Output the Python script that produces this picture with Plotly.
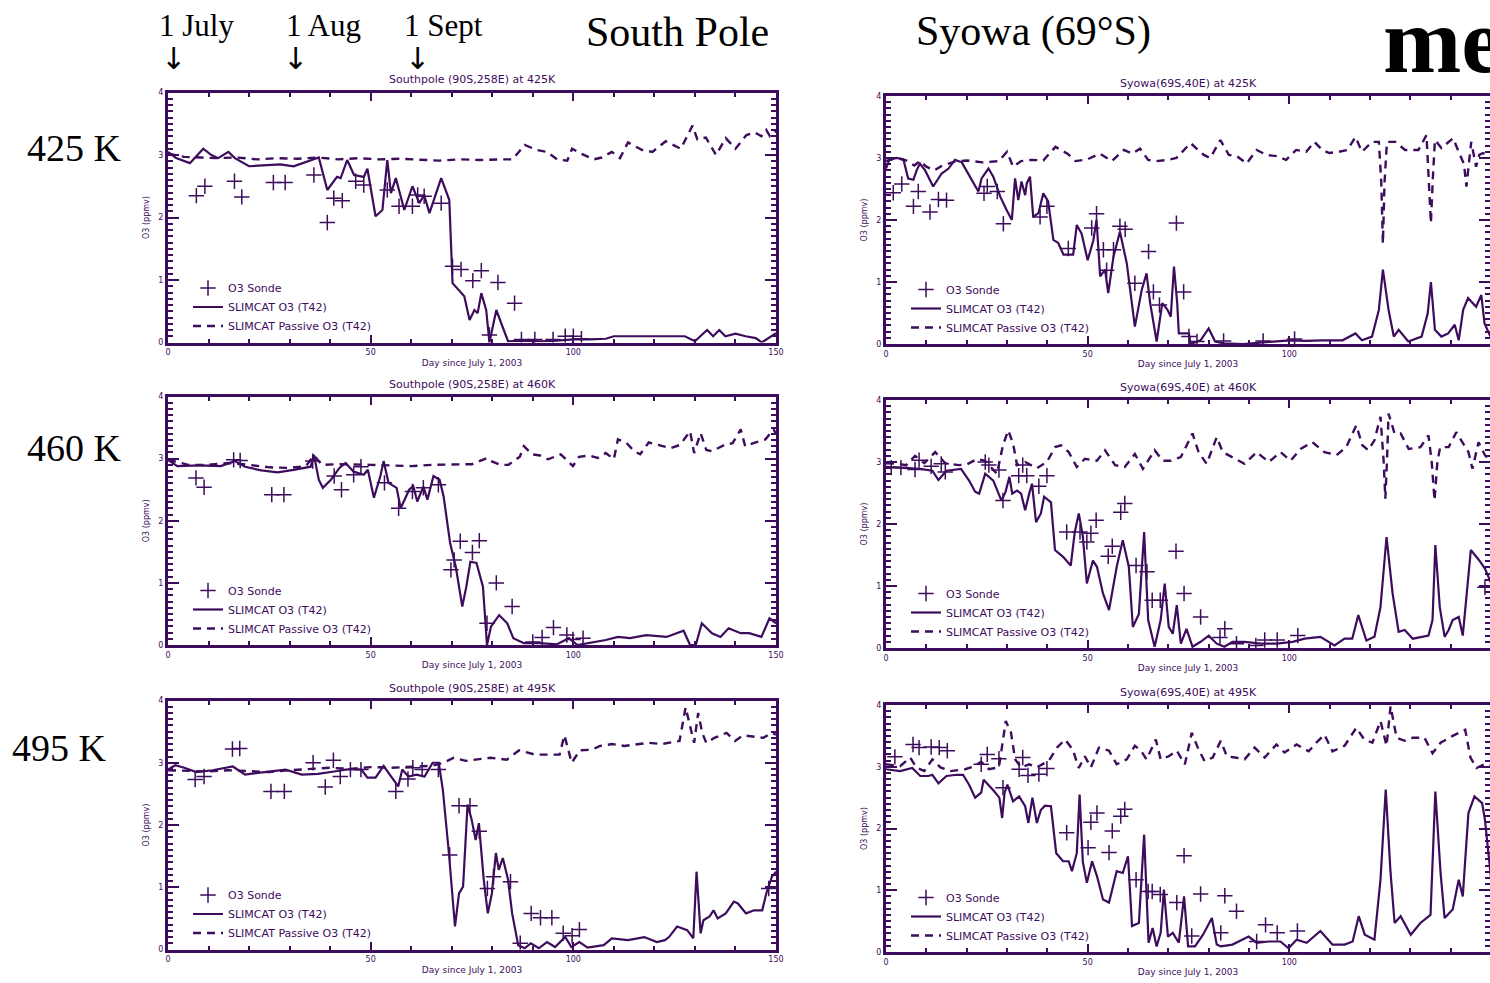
import plotly.graph_objects as go

PURPLE = "#3d0c5c"

# ---------------- South Pole 425K ----------------
SP425_MODEL_DAY = [0, 2, 5.4, 8.7, 10.7, 12.4, 14.9, 16.5, 20, 24, 27.7, 31, 34.3, 37.2, 39.3, 41.7, 42.6, 44.2, 45.9, 48.3, 49.2, 51.2, 52.9, 54.1, 55, 56.2, 58.3, 60.3, 62, 63.2, 64.5, 67.4, 69.4, 70.2, 73.1, 74.4, 75.6, 76.4, 77.3, 78.5, 79.3, 81, 82.2, 83.9, 88, 92, 96, 100, 104, 108, 110, 115, 120, 125, 127.5, 130, 133, 134.5, 136, 137.5, 140, 142.5, 145, 146.5, 149, 150]
SP425_MODEL_O3 = [3.05, 2.95, 2.87, 3.1, 3.0, 2.95, 3.05, 2.95, 2.82, 2.84, 2.85, 2.82, 2.9, 2.96, 2.44, 2.65, 2.63, 2.92, 2.68, 2.65, 2.78, 2.02, 2.12, 2.92, 2.39, 2.63, 2.12, 2.5, 2.23, 2.36, 2.07, 2.63, 2.28, 0.95, 0.74, 0.36, 0.52, 0.47, 0.79, 0.52, 0.0, 0.52, 0.31, 0.02, 0.03, 0.02, 0.03, 0.05, 0.05, 0.06, 0.1, 0.1, 0.1, 0.1, 0.1, 0.02, 0.2, 0.1, 0.2, 0.1, 0.14, 0.1, 0.07, 0.0, 0.1, 0.15]
SP425_PASSIVE_DAY = [0, 4, 8, 12, 17, 22, 27, 32, 37, 42, 47, 52, 57, 62, 67, 72, 77, 82, 85, 88, 91, 93.5, 96, 98.5, 99.7, 102, 105, 107, 109.5, 111.5, 113.5, 117, 119.5, 122.8, 126.5, 129.4, 130.6, 132.7, 135.2, 137.6, 140, 142.7, 144.8, 146.4, 147.6, 148.5, 150]
SP425_PASSIVE_O3 = [3.02, 2.97, 2.96, 2.95, 2.96, 2.93, 2.95, 2.94, 2.96, 2.93, 2.95, 2.93, 2.94, 2.92, 2.91, 2.93, 2.92, 2.93, 2.93, 3.16, 3.08, 3.05, 2.93, 2.91, 3.1, 3.02, 2.93, 2.96, 3.05, 2.95, 3.2, 3.08, 3.05, 3.22, 3.1, 3.47, 3.25, 3.28, 3.0, 3.27, 3.1, 3.32, 3.36, 3.3, 3.4, 3.3, 3.38]
SP425_SONDE_DAY = [7, 9.1, 16.4, 18.2, 26, 28.9, 36, 39.3, 40.9, 43, 46.3, 48.3, 54.1, 57, 60.3, 61.6, 63.2, 67.4, 70.2, 72.3, 75.2, 77.3, 79.3, 81.4, 85.5, 87.2, 90.5, 95, 98, 100, 102]
SP425_SONDE_O3 = [2.35, 2.5, 2.58, 2.33, 2.56, 2.56, 2.68, 1.92, 2.31, 2.27, 2.58, 2.52, 2.44, 2.18, 2.18, 2.36, 2.34, 2.23, 1.22, 1.17, 0.99, 1.15, 0.12, 0.96, 0.63, 0.05, 0.05, 0.05, 0.1, 0.1, 0.06]

# ---------------- South Pole 460K ----------------
SP460_MODEL_DAY = [0, 2.3, 7.9, 13, 16.5, 19, 23, 27, 31, 35.2, 36, 37.2, 38.2, 40.2, 42.3, 43.8, 45.8, 48.3, 49.3, 50.8, 52.4, 53.2, 54.4, 56.4, 57.4, 59.5, 60.5, 61.5, 63, 64, 65.5, 67, 68, 69.6, 70.6, 71, 72.6, 73.6, 74.6, 76.1, 77.7, 78.7, 79.7, 81.7, 83.7, 85.2, 87.8, 91.8, 95.9, 98.9, 101, 104, 108, 111, 114, 118, 123, 127.2, 128.8, 130.2, 131.7, 134.2, 136.3, 138.3, 141.3, 143.4, 146.4, 148.4, 150]
SP460_MODEL_O3 = [2.98, 2.88, 2.89, 2.88, 2.96, 2.87, 2.81, 2.78, 2.82, 2.87, 3.06, 2.66, 2.53, 2.66, 2.85, 2.93, 2.79, 2.74, 2.82, 2.37, 2.72, 2.96, 2.61, 2.53, 2.2, 2.5, 2.56, 2.31, 2.55, 2.34, 2.72, 2.66, 2.39, 1.64, 1.37, 1.26, 0.62, 0.94, 1.34, 1.32, 0.94, 0.0, 0.3, 0.48, 0.35, 0.11, 0.03, 0.03, 0.01, 0.11, 0.0, 0.03, 0.08, 0.13, 0.11, 0.16, 0.13, 0.23, 0.0, 0.0, 0.35, 0.19, 0.13, 0.27, 0.19, 0.19, 0.13, 0.43, 0.35]
SP460_PASSIVE_DAY = [0, 5, 10, 15, 20, 25, 30, 34, 36, 38, 42, 46, 50, 55, 60, 65, 70, 75, 78.7, 79.7, 82, 84, 86.8, 87.8, 89.8, 91.8, 93.8, 96.9, 99.9, 101.4, 104, 106, 108, 110, 111, 113, 115, 116.5, 118.6, 122, 124, 126.3, 128.8, 129.8, 131.4, 132.8, 134.2, 137.3, 139.3, 141.3, 142.4, 144.4, 147.4, 149.4, 150]
SP460_PASSIVE_O3 = [2.98, 2.9, 2.9, 2.93, 2.9, 2.86, 2.85, 2.88, 3.05, 2.9, 2.91, 2.9, 2.9, 2.89, 2.88, 2.9, 2.9, 2.91, 3.01, 2.96, 2.9, 2.9, 3.03, 3.2, 3.07, 3.05, 2.99, 3.07, 2.88, 3.03, 3.05, 3.01, 3.09, 2.99, 3.31, 3.26, 3.12, 3.07, 3.26, 3.2, 3.17, 3.22, 3.44, 3.09, 3.41, 3.14, 3.12, 3.22, 3.25, 3.47, 3.2, 3.25, 3.31, 3.47, 3.4]
SP460_SONDE_DAY = [6.9, 8.9, 16.2, 17.8, 25.6, 28.6, 35.7, 41, 42.8, 45.8, 47.6, 53.4, 56.9, 60.3, 63, 66.7, 69.8, 70.6, 72.1, 75.1, 76.8, 78.7, 81, 84.9, 90, 92.3, 95.1, 98.4, 99.9, 102.4]
SP460_SONDE_O3 = [2.69, 2.54, 2.98, 2.97, 2.42, 2.42, 2.96, 2.72, 2.5, 2.74, 2.87, 2.61, 2.2, 2.47, 2.53, 2.58, 1.21, 1.37, 1.67, 1.49, 1.68, 0.35, 1.0, 0.62, 0.05, 0.12, 0.28, 0.16, 0.09, 0.11]

# ---------------- South Pole 495K ----------------
SP495_MODEL_DAY = [0, 1.8, 4, 7, 11, 16, 19, 23, 29, 33, 37, 41, 45, 47.7, 49.2, 51.2, 53.2, 54.8, 55.8, 56.8, 57.8, 59.3, 61.3, 63.3, 65.3, 66.8, 67.8, 69.3, 70.8, 71.8, 72.8, 73.9, 74.9, 75.9, 76.7, 77.9, 78.9, 79.9, 80.9, 81.6, 82.6, 83.9, 84.9, 86.4, 88, 89.5, 91.5, 93.5, 95.5, 98, 99.5, 101.5, 103.5, 107.5, 109.5, 113.5, 117.5, 120.6, 122.6, 123.6, 125.6, 128.1, 129.6, 130.4, 131.4, 132.1, 133.6, 134.6, 135.6, 137.6, 139.6, 140.6, 142.6, 144.6, 146.6, 147.6, 149, 150]
SP495_MODEL_O3 = [2.89, 2.96, 2.92, 2.85, 2.88, 2.94, 2.81, 2.84, 2.89, 2.81, 2.82, 2.86, 2.9, 2.89, 2.76, 2.76, 2.95, 2.8, 2.7, 2.62, 2.89, 2.78, 2.81, 2.78, 3.0, 3.0, 2.57, 1.55, 0.37, 0.9, 1.01, 2.33, 2.09, 1.76, 2.03, 1.12, 0.58, 0.9, 1.55, 1.28, 1.47, 1.12, 0.58, 0.07, 0.02, 0.1, 0.02, 0.12, 0.04, 0.2, 0.04, 0.12, 0.03, 0.07, 0.18, 0.15, 0.2, 0.12, 0.15, 0.2, 0.37, 0.31, 0.18, 1.25, 0.26, 0.47, 0.53, 0.63, 0.5, 0.58, 0.77, 0.74, 0.58, 0.63, 0.63, 0.9, 1.17, 1.25]
SP495_PASSIVE_DAY = [0, 5, 10, 15, 20, 25, 30, 35, 40, 45, 50, 55, 60, 65, 68, 70.5, 73.5, 76.5, 79.5, 83.6, 86.6, 90.6, 93.6, 96.6, 97.8, 99.6, 101.6, 104.6, 106.6, 109.6, 112.6, 115.7, 118.7, 121.7, 123.7, 126.2, 127.7, 128.7, 129.8, 130.8, 131.8, 132.8, 134.8, 137.8, 139.9, 141.9, 144.9, 146.9, 148.9, 150]
SP495_PASSIVE_O3 = [2.88, 2.87, 2.86, 2.88, 2.87, 2.85, 2.88, 2.9, 2.92, 2.9, 2.93, 2.92, 2.93, 2.95, 3.0, 3.08, 3.03, 3.05, 3.08, 3.05, 3.2, 3.13, 3.13, 3.13, 3.44, 3.0, 3.2, 3.21, 3.27, 3.3, 3.27, 3.3, 3.32, 3.3, 3.32, 3.35, 3.89, 3.62, 3.32, 3.8, 3.48, 3.32, 3.4, 3.48, 3.35, 3.44, 3.42, 3.4, 3.48, 3.45]
SP495_SONDE_DAY = [6.7, 8.9, 15.9, 17.7, 25.4, 28.7, 35.8, 38.8, 40.8, 42.5, 45, 47.6, 56.2, 59.2, 60.4, 62.7, 66.7, 69.5, 71.8, 74.5, 76.8, 78.8, 80.3, 84.5, 86.9, 89.6, 91.9, 94.7, 97.5, 99.7, 101.5, 148.2]
SP495_SONDE_O3 = [2.73, 2.78, 3.22, 3.23, 2.54, 2.54, 3.0, 2.61, 3.04, 2.78, 2.89, 2.89, 2.54, 2.74, 2.92, 2.89, 2.89, 1.52, 2.31, 2.31, 1.9, 0.98, 1.17, 1.09, 0.1, 0.58, 0.51, 0.51, 0.26, 0.22, 0.32, 0.98]

# ---------------- Syowa 425K ----------------
SY425_MODEL_DAY = [0, 0.8, 2.6, 4.3, 5.5, 6.8, 7.6, 8.4, 9.7, 11.7, 13.8, 15.5, 17.1, 18.8, 20.8, 22.9, 23.7, 25.4, 26.6, 28.3, 29.9, 31.2, 32, 32.8, 33.6, 34.5, 34.9, 35.7, 36.5, 37.8, 39, 40.2, 41.5, 42.7, 44, 46.4, 47.3, 48.5, 50, 51.4, 52.2, 53.1, 54.3, 55.1, 56.4, 58, 59.7, 61.7, 63.4, 64.6, 65.5, 67.1, 68.5, 69.8, 70.6, 71.4, 72.2, 72.6, 75.1, 75.5, 78, 80, 81.6, 83.7, 88.6, 91.9, 96, 100.1, 104.2, 108.2, 113.2, 116.4, 118, 120.5, 122.2, 123.2, 124.6, 125.9, 127.1, 129.5, 132.8, 134.3, 135.1, 136.1, 137.7, 139.4, 141, 142, 143.1, 144.3, 146.3, 147.6, 148.4, 150]
SY425_MODEL_O3 = [2.83, 2.97, 3.0, 2.98, 2.67, 2.65, 2.8, 2.91, 2.8, 2.54, 2.75, 2.83, 2.97, 2.93, 2.7, 2.46, 2.67, 2.83, 2.7, 2.38, 2.16, 2.0, 2.67, 2.32, 2.62, 2.4, 2.59, 2.7, 2.05, 2.11, 2.43, 2.3, 1.68, 1.63, 1.44, 1.44, 1.92, 1.78, 1.35, 1.67, 2.0, 1.09, 1.2, 0.82, 1.41, 1.81, 1.3, 0.28, 0.87, 1.14, 0.66, 0.04, 0.66, 0.55, 0.44, 1.25, 0.66, 0.17, 0.17, 0.0, 0.06, 0.25, 0.04, 0.01, 0.0, 0.02, 0.04, 0.06, 0.05, 0.06, 0.06, 0.17, 0.06, 0.12, 0.55, 1.2, 0.55, 0.12, 0.23, 0.04, 0.12, 0.49, 1.0, 0.23, 0.12, 0.17, 0.31, 0.06, 0.55, 0.74, 0.6, 0.79, 0.33, 0.1]
SY425_PASSIVE_DAY = [0, 2.5, 5, 7, 8.4, 10, 12, 14, 17, 20, 24, 28, 30, 31.5, 33.5, 36, 39, 42, 45, 47, 50, 53, 56, 59, 61, 63, 65, 67, 70, 72, 75.5, 78.8, 80.4, 82.9, 85, 87, 89.4, 91.9, 94.3, 96.8, 99.2, 101.7, 104.2, 106.2, 108.2, 109.9, 112.3, 114.4, 116.4, 118, 120.5, 122.2, 122.8, 123.2, 123.6, 124.2, 126.3, 128.7, 132, 134, 134.6, 135.1, 135.6, 136.1, 137.7, 140.6, 141.8, 143.3, 143.9, 144.5, 145.1, 146.3, 147.1, 148, 150]
SY425_PASSIVE_O3 = [2.95, 3.0, 2.96, 2.88, 2.95, 2.86, 2.8, 2.88, 2.94, 2.96, 2.93, 2.95, 3.1, 2.86, 2.95, 2.97, 2.96, 3.18, 3.07, 2.95, 2.98, 3.07, 2.95, 3.13, 3.07, 3.15, 2.97, 2.95, 2.97, 3.0, 3.24, 3.05, 3.0, 3.29, 3.05, 3.03, 2.91, 3.13, 3.05, 3.03, 2.97, 3.13, 3.1, 3.26, 3.13, 3.08, 3.1, 3.13, 3.34, 3.1, 3.26, 3.26, 2.6, 1.62, 2.6, 3.26, 3.26, 3.13, 3.13, 3.37, 2.6, 1.95, 2.7, 3.29, 3.16, 3.32, 3.13, 2.9, 2.54, 2.9, 3.26, 2.86, 3.05, 3.08, 3.0]
SY425_SONDE_DAY = [1.8, 3.9, 6.8, 8, 10.9, 13, 15, 24.3, 25.1, 27.6, 29.1, 38.2, 39.9, 45.2, 51, 52.2, 53.9, 54.7, 56.4, 58, 59.3, 61.7, 65.1, 66.3, 67.8, 72, 73.8, 75.1, 77.1, 83.7, 93.5, 101.3]
SY425_SONDE_O3 = [2.44, 2.58, 2.22, 2.46, 2.13, 2.33, 2.32, 2.43, 2.54, 2.46, 1.94, 2.05, 2.22, 1.54, 1.87, 2.1, 1.52, 1.19, 1.52, 1.9, 1.85, 0.98, 1.49, 0.84, 0.63, 1.95, 0.84, 0.12, 0.04, 0.05, 0.05, 0.08]

# ---------------- Syowa 460K ----------------
SY460_MODEL_DAY = [0, 3.5, 8.5, 11.5, 13, 15, 18.6, 20.6, 22.1, 23.1, 24.6, 26.6, 28.6, 29.6, 30.6, 31.3, 32.5, 33.5, 34.5, 35.5, 36.2, 37.2, 38.4, 39.2, 40.9, 41.9, 43.9, 45.8, 46.8, 47.8, 48.8, 49.8, 51.3, 52.3, 53.8, 55.3, 57.2, 58.7, 60.2, 61.2, 62.7, 64, 65, 66.6, 68.1, 69.1, 70.1, 71.1, 72.1, 73.1, 74.5, 76, 78, 80, 82, 83.9, 85.9, 88.9, 92.9, 96.8, 100.8, 103.8, 107.7, 111.2, 113.7, 115.6, 117.1, 119.1, 121.1, 122.6, 124.1, 125.6, 127.1, 128.6, 130.6, 134.5, 135.5, 136.2, 137.3, 138.5, 139.5, 140.5, 142, 143, 145, 147, 148.5, 150]
SY460_MODEL_O3 = [2.92, 2.91, 2.89, 2.86, 2.71, 2.86, 2.89, 2.7, 2.52, 2.49, 2.81, 2.7, 2.38, 2.51, 2.76, 2.49, 2.54, 2.49, 2.22, 2.49, 2.65, 2.03, 2.17, 2.44, 2.35, 1.58, 1.47, 1.33, 1.87, 2.17, 1.8, 1.04, 1.41, 1.31, 0.88, 0.61, 1.31, 1.74, 1.31, 0.34, 0.55, 1.87, 0.45, 0.02, 0.45, 1.04, 0.34, 0.23, 0.69, 0.07, 0.31, 0.02, 0.1, 0.2, 0.07, 0.02, 0.1, 0.1, 0.07, 0.07, 0.1, 0.15, 0.18, 0.04, 0.15, 0.15, 0.53, 0.12, 0.18, 0.66, 1.79, 0.88, 0.26, 0.29, 0.15, 0.2, 0.45, 1.66, 0.66, 0.18, 0.29, 0.45, 0.5, 0.2, 1.58, 1.42, 1.28, 1.05]
SY460_PASSIVE_DAY = [0, 3, 5, 7.2, 9.5, 12.2, 14.7, 18, 20, 22.6, 24.6, 27.5, 29, 30.3, 31.5, 32.5, 34.5, 37.4, 39.9, 41.9, 43.4, 45.3, 47.3, 49.3, 52.3, 54.3, 56.8, 59.2, 61.7, 63.7, 66.6, 68.6, 70.6, 73.1, 76, 77.5, 79.5, 82, 83.5, 85.9, 88.9, 91.9, 94.9, 97.8, 100.3, 102.8, 105.7, 108.7, 111.7, 114.1, 116.6, 118.1, 119.6, 121.1, 122.6, 123.4, 123.8, 124.2, 124.6, 126.1, 127.6, 129.6, 132.5, 134.5, 135.3, 136, 136.7, 137.4, 139.5, 141.4, 142.9, 144.4, 145.4, 146.9, 148.5, 150]
SY460_PASSIVE_O3 = [2.98, 2.97, 2.95, 3.1, 2.98, 3.16, 2.98, 2.95, 2.96, 3.05, 3.02, 2.81, 3.27, 3.51, 3.3, 2.95, 3.0, 2.9, 3.0, 3.24, 3.27, 3.16, 2.92, 3.05, 3.02, 3.19, 2.95, 2.92, 3.13, 2.89, 3.19, 3.02, 3.02, 3.08, 3.46, 3.16, 2.97, 3.4, 3.16, 3.08, 2.97, 3.16, 3.0, 3.16, 3.02, 3.21, 3.32, 3.16, 3.11, 3.24, 3.59, 3.27, 3.19, 3.35, 3.73, 3.0, 2.41, 3.0, 3.78, 3.46, 3.46, 3.21, 3.24, 3.43, 3.0, 2.38, 3.0, 3.24, 3.24, 3.48, 3.32, 3.16, 2.89, 3.32, 3.11, 3.0]
SY460_SONDE_DAY = [1.3, 3.7, 7.2, 8.2, 11.2, 13.7, 14.7, 24.6, 25.5, 28, 29, 32.9, 33.9, 34.9, 37.9, 39.9, 44.8, 48.1, 49.8, 50.8, 52.1, 55.1, 56.1, 58.2, 59.2, 62, 64.7, 66, 68, 71.9, 73.9, 78, 82.8, 84, 86.9, 91.7, 93.9, 97, 102.1, 148.5]
SY460_SONDE_O3 = [2.91, 2.91, 2.88, 3.03, 2.93, 2.97, 2.84, 3.0, 2.95, 2.87, 2.38, 2.78, 2.95, 2.78, 2.61, 2.78, 1.87, 1.87, 1.71, 1.85, 2.06, 1.48, 1.64, 2.19, 2.33, 1.33, 1.23, 0.77, 0.77, 1.56, 0.88, 0.5, 0.17, 0.31, 0.07, 0.04, 0.13, 0.13, 0.2, 0.98]

# ---------------- Syowa 495K ----------------
SY495_MODEL_DAY = [0, 3.5, 6.5, 8.5, 10.5, 11.5, 13, 15, 17.6, 19.1, 20.6, 22.1, 23.6, 24.2, 26.6, 28.1, 28.8, 29.4, 30.1, 31.5, 33, 34.5, 35.3, 36.3, 37.4, 38.4, 39.4, 40.9, 42.2, 43.9, 45.3, 46.1, 47.3, 48, 48.8, 49.8, 51.1, 52.3, 53.8, 55.3, 57.2, 58.7, 60, 61, 62.7, 64, 65.1, 66.1, 67.1, 68.1, 68.9, 69.9, 71.1, 72.6, 73.9, 74.9, 76.6, 78.6, 80.8, 82, 83, 85.9, 89.9, 91.9, 94.9, 97.8, 99.8, 101.8, 104.3, 107.7, 110.7, 113.7, 115.7, 117.2, 118.7, 121.1, 122.6, 123.9, 125.1, 126.1, 127.6, 130.1, 132.5, 135, 136.2, 137.5, 138.5, 140.5, 142, 143, 144.4, 145.9, 147.8, 148.5, 150]
SY495_MODEL_O3 = [2.96, 2.93, 2.98, 2.85, 2.85, 2.87, 2.73, 2.85, 2.87, 2.87, 2.71, 2.5, 2.58, 2.79, 2.62, 2.5, 2.17, 2.58, 2.71, 2.44, 2.52, 2.36, 2.09, 2.5, 2.09, 2.3, 2.37, 2.36, 1.6, 1.47, 1.47, 1.31, 1.6, 2.55, 1.46, 1.12, 1.47, 1.23, 0.85, 0.8, 1.31, 1.28, 1.55, 0.42, 0.47, 1.9, 0.15, 0.39, 0.09, 0.31, 1.01, 0.25, 0.31, 0.15, 0.9, 0.09, 0.09, 0.28, 0.55, 0.12, 0.09, 0.12, 0.25, 0.15, 0.17, 0.17, 0.06, 0.2, 0.15, 0.34, 0.12, 0.12, 0.17, 0.58, 0.28, 0.2, 1.17, 2.63, 1.28, 0.47, 0.58, 0.28, 0.47, 0.6, 2.6, 1.28, 0.55, 0.69, 1.17, 0.9, 2.25, 2.52, 2.41, 2.14, 1.2]
SY495_PASSIVE_DAY = [0, 3.5, 6, 7.5, 9.5, 11.5, 13.5, 16, 19.6, 21.6, 23.6, 25.5, 28, 29.7, 31, 32, 33.5, 35.5, 37.4, 40.4, 42.4, 44.4, 46.3, 47.8, 49.3, 50.8, 52.8, 55.3, 57.2, 59.7, 61.7, 63.2, 64.6, 66.9, 68.1, 70.1, 72.1, 74.1, 75.8, 77.5, 79, 81, 83, 84.5, 86.5, 88.9, 91.4, 93.9, 96.8, 98.8, 101.8, 104.8, 106.7, 108.7, 110.7, 113.7, 116.6, 118.6, 120.6, 122.6, 124.1, 125.1, 126.6, 128.6, 130.6, 133.5, 135.5, 137.5, 140.5, 143.6, 144.9, 146.4, 148.4, 150]
SY495_PASSIVE_O3 = [3.04, 3.01, 3.15, 2.99, 2.93, 3.12, 2.99, 2.93, 2.96, 3.0, 3.08, 2.96, 2.99, 3.74, 3.55, 3.12, 2.99, 3.04, 2.99, 3.1, 3.31, 3.44, 3.28, 2.98, 3.17, 2.99, 3.31, 3.26, 3.04, 3.12, 3.34, 3.26, 3.12, 3.44, 3.12, 3.17, 3.26, 3.04, 3.55, 3.28, 3.09, 3.15, 3.42, 3.17, 3.15, 3.12, 3.31, 3.15, 3.36, 3.23, 3.36, 3.25, 3.39, 3.52, 3.25, 3.34, 3.63, 3.44, 3.39, 3.74, 3.34, 3.98, 3.47, 3.42, 3.47, 3.47, 3.22, 3.39, 3.5, 3.6, 3.15, 2.98, 3.04, 3.02]
SY495_SONDE_DAY = [2.2, 6.7, 8.2, 11.2, 13.2, 15.2, 23.6, 25.1, 28, 29, 33, 33.9, 35.2, 37.9, 39.9, 44.8, 50.1, 50.8, 52.3, 55.3, 56.1, 58.2, 59.2, 62, 65, 66, 68, 72.1, 73.9, 75.8, 78, 83, 84, 86.9, 91.9, 94.1, 97, 102]
SY495_SONDE_O3 = [3.16, 3.36, 3.31, 3.32, 3.31, 3.26, 3.04, 3.2, 3.13, 2.66, 2.96, 3.15, 2.86, 2.88, 2.97, 1.93, 1.69, 2.1, 2.25, 1.61, 1.96, 2.2, 2.31, 1.17, 0.98, 0.98, 0.93, 0.8, 1.56, 0.26, 0.94, 0.31, 0.91, 0.66, 0.17, 0.44, 0.31, 0.34]

PANEL_TITLES = ["Southpole (90S,258E) at 425K", "Syowa(69S,40E) at 425K",
                "Southpole (90S,258E) at 460K", "Syowa(69S,40E) at 460K",
                "Southpole (90S,258E) at 495K", "Syowa(69S,40E) at 495K"]
LEGEND_NAMES = ["O3 Sonde", "SLIMCAT O3 (T42)", "SLIMCAT Passive O3 (T42)"]
LEVEL_LABELS = ["425 K", "460 K", "495 K"]
STATION_LABELS = ["South Pole", "Syowa (69°S)"]
MONTH_LABELS = ["1 July", "1 Aug", "1 Sept"]

panels = [
    (SP425_MODEL_DAY, SP425_MODEL_O3, SP425_PASSIVE_DAY, SP425_PASSIVE_O3, SP425_SONDE_DAY, SP425_SONDE_O3),
    (SY425_MODEL_DAY, SY425_MODEL_O3, SY425_PASSIVE_DAY, SY425_PASSIVE_O3, SY425_SONDE_DAY, SY425_SONDE_O3),
    (SP460_MODEL_DAY, SP460_MODEL_O3, SP460_PASSIVE_DAY, SP460_PASSIVE_O3, SP460_SONDE_DAY, SP460_SONDE_O3),
    (SY460_MODEL_DAY, SY460_MODEL_O3, SY460_PASSIVE_DAY, SY460_PASSIVE_O3, SY460_SONDE_DAY, SY460_SONDE_O3),
    (SP495_MODEL_DAY, SP495_MODEL_O3, SP495_PASSIVE_DAY, SP495_PASSIVE_O3, SP495_SONDE_DAY, SP495_SONDE_O3),
    (SY495_MODEL_DAY, SY495_MODEL_O3, SY495_PASSIVE_DAY, SY495_PASSIVE_O3, SY495_SONDE_DAY, SY495_SONDE_O3),
]

W, H = 1490, 983
# pixel boxes (left, right, top, bottom) for each panel
boxes = [
    (168, 776, 92.5, 342.5), (886, 1491, 96, 344),
    (168, 776, 396.5, 645), (886, 1491, 400, 648),
    (168, 776, 700.5, 949.5), (886, 1491, 705, 952),
]

fig = go.Figure()
SERIF = "Liberation Serif, Times New Roman, serif"
SMALL = "DejaVu Sans, Arial, sans-serif"

layout_updates = {}
for i, ((md, mo, pd_, po, sd, so), (l, r, t, b)) in enumerate(zip(panels, boxes)):
    n = i + 1
    xa = "x" if n == 1 else f"x{n}"
    ya = "y" if n == 1 else f"y{n}"
    leg = "legend" if n == 1 else f"legend{n}"
    fig.add_trace(go.Scatter(x=sd, y=so, mode="markers", name=LEGEND_NAMES[0],
                             xaxis=xa, yaxis=ya, legend=leg,
                             marker=dict(symbol="cross-thin", size=11, color=PURPLE,
                                         line=dict(color=PURPLE, width=1.5))))
    fig.add_trace(go.Scatter(x=md, y=mo, mode="lines", name=LEGEND_NAMES[1],
                             xaxis=xa, yaxis=ya, legend=leg,
                             line=dict(color=PURPLE, width=2.2)))
    fig.add_trace(go.Scatter(x=pd_, y=po, mode="lines", name=LEGEND_NAMES[2],
                             xaxis=xa, yaxis=ya, legend=leg,
                             line=dict(color=PURPLE, width=2.4, dash="8px,6px")))
    xdom = [l / W, min(r / W, 1.0)]
    ydom = [(H - b) / H, (H - t) / H]
    axis_common = dict(showline=True, linecolor=PURPLE, linewidth=3, mirror="allticks",
                       ticks="inside", tickcolor=PURPLE, tickwidth=2,
                       showgrid=False, zeroline=False, automargin=False,
                       tickfont=dict(family=SMALL, size=8, color=PURPLE))
    layout_updates["xaxis" if n == 1 else f"xaxis{n}"] = dict(
        axis_common, domain=xdom, range=[0, 150 if r <= W else 150 * (W - l) / (r - l)],
        tickmode="array", tickvals=[0, 50, 100, 150], ticklen=8, anchor=ya,
        minor=dict(dtick=10, ticks="inside", ticklen=4, tickcolor=PURPLE, tickwidth=2),
        title=dict(text="Day since July 1, 2003", standoff=4,
                   font=dict(family=SMALL, size=9, color=PURPLE)))
    layout_updates["yaxis" if n == 1 else f"yaxis{n}"] = dict(
        axis_common, domain=ydom, range=[0, 4], tickmode="array",
        tickvals=[0, 1, 2, 3, 4], ticklen=11, anchor=xa,
        minor=dict(dtick=0.1, ticks="inside", ticklen=5, tickcolor=PURPLE, tickwidth=1.5),
        title=dict(text="O3 (ppmv)", standoff=8,
                   font=dict(family=SMALL, size=8, color=PURPLE)))
    layout_updates[leg] = dict(x=(l + 20) / W, y=(H - b + 2) / H, xanchor="left", yanchor="bottom",
                               bgcolor="rgba(0,0,0,0)", borderwidth=0, tracegroupgap=0,
                               itemwidth=30, traceorder="normal",
                               font=dict(family=SMALL, size=11, color=PURPLE))
    # panel title
    fig.add_annotation(text=PANEL_TITLES[i], xref="paper", yref="paper",
                       x=(l + r) / 2 / W, y=(H - t + 4) / H, xanchor="center", yanchor="bottom",
                       showarrow=False, font=dict(family=SMALL, size=11, color=PURPLE))

fig.update_layout(**layout_updates)

# header labels
month_centers = [196, 323, 443]
arrow_centers = [173, 295, 417]
for lab, cx, ax in zip(MONTH_LABELS, month_centers, arrow_centers):
    fig.add_annotation(text=lab, xref="paper", yref="paper", x=cx / W, y=(H - 25) / H,
                       xanchor="center", yanchor="middle", showarrow=False,
                       font=dict(family=SERIF, size=31, color="black"))
    fig.add_annotation(text="↓", xref="paper", yref="paper", x=ax / W, y=(H - 59) / H,
                       xanchor="center", yanchor="middle", showarrow=False,
                       font=dict(family="DejaVu Sans, sans-serif", size=30, color="black"))

for lab, cx in zip(STATION_LABELS, [677, 1033]):
    fig.add_annotation(text=lab, xref="paper", yref="paper", x=cx / W, y=(H - 32) / H,
                       xanchor="center", yanchor="middle", showarrow=False,
                       font=dict(family=SERIF, size=42, color="black"))

for lab, cx, cy in zip(LEVEL_LABELS, [74, 74, 60], [148, 448, 748]):
    fig.add_annotation(text=lab, xref="paper", yref="paper", x=cx / W, y=(H - cy) / H,
                       xanchor="center", yanchor="middle", showarrow=False,
                       font=dict(family=SERIF, size=38, color="black"))

fig.add_annotation(text="<b>me</b>", xref="paper", yref="paper", x=1381 / W, y=(H - 40) / H,
                   xanchor="left", yanchor="middle", showarrow=False,
                   font=dict(family=SERIF, size=94, color="black"))

fig.update_layout(width=W, height=H, margin=dict(l=0, r=0, t=0, b=0, autoexpand=False),
                  paper_bgcolor="white", plot_bgcolor="white", showlegend=True)

fig.write_html("out.html", config={"displayModeBar": False},
               post_script="document.body.style.margin='0px';document.body.style.overflow='hidden';")
